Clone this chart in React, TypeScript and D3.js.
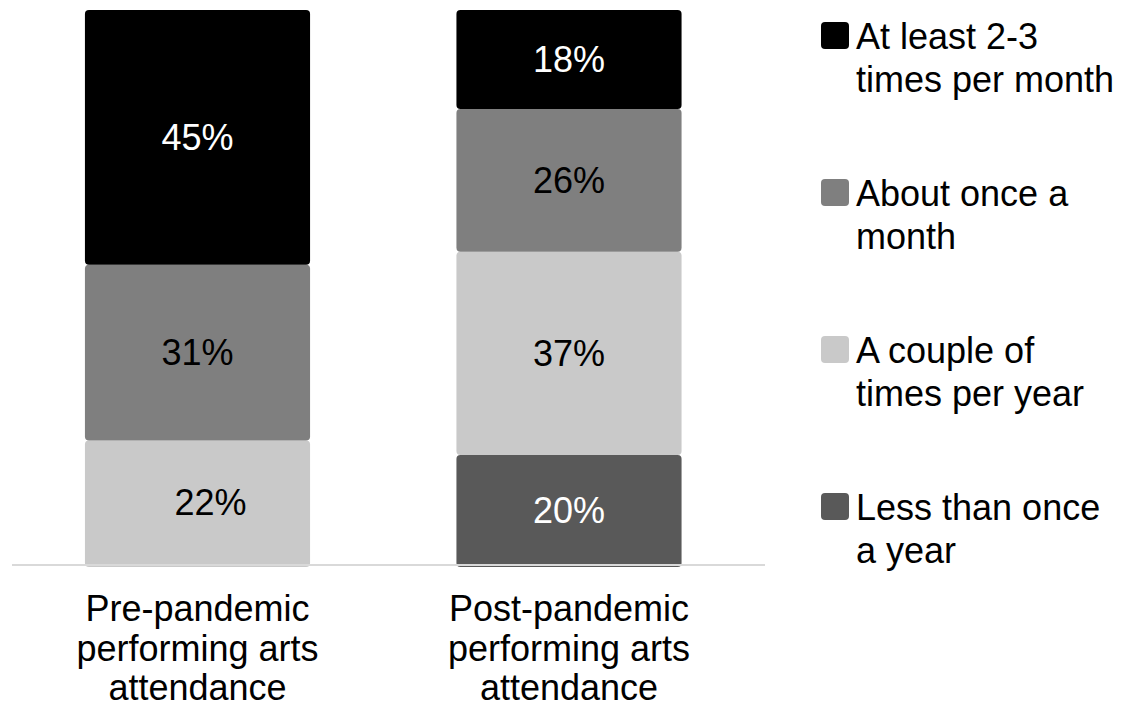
import React from "react";
import * as d3 from "d3";

const categories = ["Pre-pandemic", "Post-pandemic"];
const categoryLabelLines = [
  ["Pre-pandemic", "performing arts", "attendance"],
  ["Post-pandemic", "performing arts", "attendance"],
];
// series listed bottom-to-top of the stack
const seriesKeys = ["less", "couple", "about", "atleast"];
const seriesLegendLines: Record<string, string[]> = {
  atleast: ["At least 2-3", "times per month"],
  about: ["About once a", "month"],
  couple: ["A couple of", "times per year"],
  less: ["Less than once", "a year"],
};
const lessValues = [0, 20];
const coupleValues = [22, 37];
const aboutValues = [31, 26];
const atleastValues = [45, 18];

const colors: Record<string, string> = {
  atleast: "#000000",
  about: "#7f7f7f",
  couple: "#c9c9c9",
  less: "#595959",
};
const labelColors: Record<string, string> = {
  atleast: "#ffffff",
  about: "#000000",
  couple: "#000000",
  less: "#ffffff",
};
const legendOrder = ["atleast", "about", "couple", "less"];

const W = 1127;
const H = 709;
const FONT = "'Liberation Sans', Arial, sans-serif";
const FS = 36;

export default function App() {
  const table = categories.map((c, i) => ({
    cat: c,
    less: lessValues[i],
    couple: coupleValues[i],
    about: aboutValues[i],
    atleast: atleastValues[i],
  }));
  const stack = d3.stack<any>().keys(seriesKeys).offset(d3.stackOffsetExpand);
  const layers = stack(table);

  const x = d3
    .scaleBand<string>()
    .domain(categories)
    .range([11.75, 754.75])
    .paddingInner(0.394)
    .paddingOuter(0.197);
  const y = d3.scaleLinear().domain([0, 1]).range([565, 10]);

  return (
    <svg
      width={W}
      height={H}
      style={{ position: "absolute", left: 0, top: 0, background: "#fff" }}
      fontFamily={FONT}
    >
      {layers.map((layer) =>
        layer.map((d, i) => {
          const raw = (d.data as any)[layer.key] as number;
          if (!raw) return null;
          const x0 = x(categories[i])!;
          const bw = x.bandwidth();
          const y0 = y(d[1]);
          const y1 = y(d[0]);
          const dx = layer.key === "couple" && i === 0 ? 13 : 0;
          return (
            <g key={layer.key + i}>
              <rect
                x={x0}
                y={y0}
                width={bw}
                height={y1 - y0 + (d[0] === 0 ? 2 : 0)}
                rx={4}
                fill={colors[layer.key]}
              />
              <text
                x={x0 + bw / 2 + dx}
                y={(y0 + y1) / 2}
                dy="0.35em"
                textAnchor="middle"
                fontSize={FS}
                fill={labelColors[layer.key]}
              >
                {raw}%
              </text>
            </g>
          );
        })
      )}
      <line x1={12} x2={765} y1={565} y2={565} stroke="#d9d9d9" strokeWidth={2} />
      {categories.map((c, i) => (
        <text
          key={c}
          x={x(c)! + x.bandwidth() / 2}
          y={621}
          textAnchor="middle"
          fontSize={FS}
          fill="#000"
        >
          {categoryLabelLines[i].map((ln, j) => (
            <tspan key={j} x={x(c)! + x.bandwidth() / 2} y={621 + j * 39.5}>
              {ln}
            </tspan>
          ))}
        </text>
      ))}
      {legendOrder.map((k, i) => {
        const top = 22 + i * 157;
        return (
          <g key={k}>
            <rect x={821} y={top} width={28} height={27} rx={4} fill={colors[k]} />
            {seriesLegendLines[k].map((ln, j) => (
              <text key={j} x={856} y={top + 27 + j * 43} fontSize={FS} fill="#000">
                {ln}
              </text>
            ))}
          </g>
        );
      })}
    </svg>
  );
}
